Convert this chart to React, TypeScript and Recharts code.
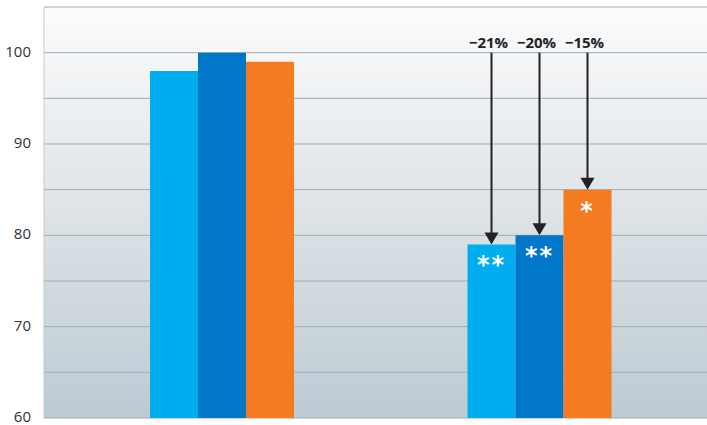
import React from "react";
import { BarChart, Bar, XAxis, YAxis, CartesianGrid, LabelList } from "recharts";

const categories = ["Baseline", "Follow-up"];
const seriesA = [98, 79];
const seriesB = [100, 80];
const seriesC = [99, 85];
const changeA = ["", "−21%"];
const changeB = ["", "−20%"];
const changeC = ["", "−15%"];
const starsA = ["", "**"];
const starsB = ["", "**"];
const starsC = ["", "*"];
const yTicks = [60, 65, 70, 75, 80, 85, 90, 95, 100, 105];
const arrowFrom = 100;
const yMin = 60;

const data = categories.map((c, i) => ({
  cat: c,
  a: seriesA[i],
  b: seriesB[i],
  c: seriesC[i],
  chA: changeA[i],
  chB: changeB[i],
  chC: changeC[i],
  stA: starsA[i],
  stB: starsB[i],
  stC: starsC[i],
}));

const makeArrow = (vals: number[], labels: string[]) => (props: any) => {
  const { x, y, width, height, index } = props;
  const label = labels[index];
  if (!label) return null;
  const v = vals[index];
  const ppu = height / (v - yMin);
  const cx = x + width / 2;
  const y0 = y - (arrowFrom - v) * ppu;
  const tip = y;
  return (
    <g>
      <line x1={cx} y1={y0} x2={cx} y2={tip - 11} stroke="#222" strokeWidth={2} />
      <polygon points={`${cx - 7},${tip - 12} ${cx + 7},${tip - 12} ${cx},${tip}`} fill="#222" />
      <text x={cx - 3} y={y0 - 5} textAnchor="middle" fontFamily="Open Sans" fontWeight={700} fontSize={15} fill="#222">
        {label}
      </text>
    </g>
  );
};

const makeStars = (labels: string[]) => (props: any) => {
  const { x, y, width, index } = props;
  const label = labels[index];
  if (!label) return null;
  return (
    <text x={x + width / 2} y={y + 29} textAnchor="middle" fontFamily="DejaVu Sans" fontWeight={700} fontSize={24} letterSpacing={2} fill="#fff">
      {label}
    </text>
  );
};

const Tick = (props: any) => {
  const { x, y, payload } = props;
  if (payload.value % 10 !== 0 || payload.value > 100) return null;
  return (
    <text x={x - 5} y={y + 4} textAnchor="end" fontFamily="Open Sans" fontSize={15} fill="#333">
      {payload.value}
    </text>
  );
};

export default function App() {
  return (
    <div style={{ position: "absolute", left: 0, top: 0 }}>
      <BarChart
        width={707}
        height={425}
        data={data}
        margin={{ top: 7, right: 0, bottom: 7, left: 0 }}
        barGap={0}
        barCategoryGap={87}
      >
        <defs>
          <linearGradient id="bg" x1="0" y1="0" x2="0" y2="1">
            <stop offset="0%" stopColor="#fcfcfd" />
            <stop offset="50%" stopColor="#dde3e7" />
            <stop offset="100%" stopColor="#bccad2" />
          </linearGradient>
        </defs>
        <CartesianGrid vertical={false} stroke="#a2aaaf" fill="url(#bg)" fillOpacity={1} />
        <XAxis dataKey="cat" hide padding={{ left: 19, right: 9 }} />
        <YAxis
          domain={[60, 105]}
          ticks={yTicks}
          interval={0}
          width={44}
          tickLine={false}
          axisLine={{ stroke: "#c8c8c8" }}
          tick={<Tick />}
        />
        <Bar dataKey="a" fill="#00aeef" isAnimationActive={false}>
          <LabelList dataKey="chA" content={makeArrow(seriesA, changeA)} />
          <LabelList dataKey="stA" content={makeStars(starsA)} />
        </Bar>
        <Bar dataKey="b" fill="#0077c8" isAnimationActive={false}>
          <LabelList dataKey="chB" content={makeArrow(seriesB, changeB)} />
          <LabelList dataKey="stB" content={makeStars(starsB)} />
        </Bar>
        <Bar dataKey="c" fill="#f47b20" isAnimationActive={false}>
          <LabelList dataKey="chC" content={makeArrow(seriesC, changeC)} />
          <LabelList dataKey="stC" content={makeStars(starsC)} />
        </Bar>
      </BarChart>
    </div>
  );
}
